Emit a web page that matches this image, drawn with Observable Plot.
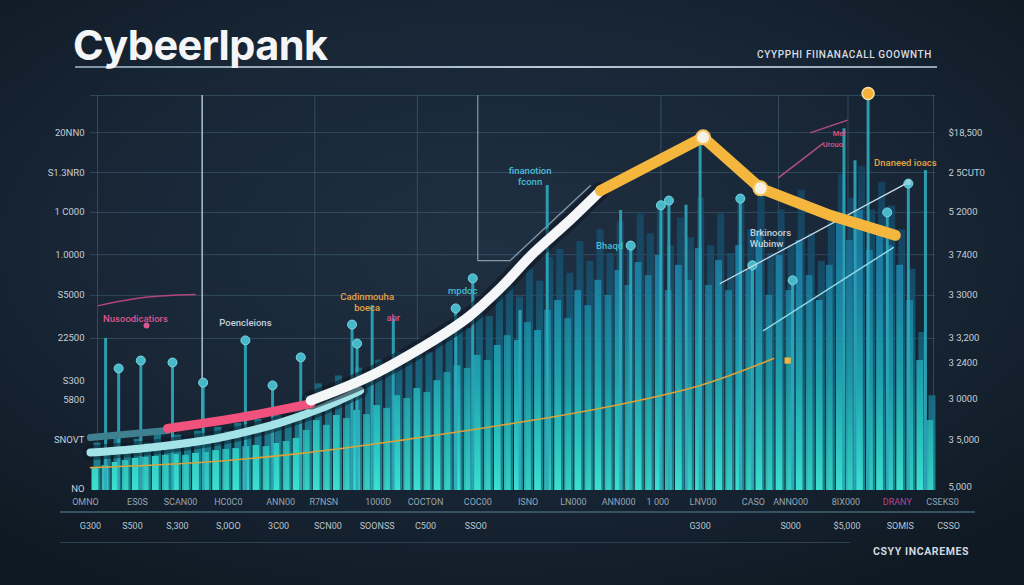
<!DOCTYPE html>
<html><head><meta charset="utf-8">
<script src="https://cdn.jsdelivr.net/npm/d3@7"></script>
<script src="https://cdn.jsdelivr.net/npm/@observablehq/plot@0.6"></script>
<style>
html,body{margin:0;padding:0;}
body{width:1024px;height:585px;overflow:hidden;position:relative;
  background:radial-gradient(ellipse 72% 68% at 48% 42%, #1f3042 0%, #182636 55%, #0f1923 100%);
  font-family:Roboto,"Open Sans",sans-serif;}
#header{position:relative;height:80px;}
#rule{position:absolute;left:75px;top:66px;width:862px;height:2px;background:linear-gradient(90deg,#7e95a6,#b9c9d5 55%,#8fa5b5);}
#title{position:absolute;left:73px;top:25px;font-family:Inter,Roboto,sans-serif;font-weight:700;font-size:41.5px;line-height:40px;color:#f3f5f7;letter-spacing:-0.6px;}
#subtitle{position:absolute;right:92px;top:49px;font-size:10px;letter-spacing:0.6px;color:#d6dce2;font-weight:500;}
.sep{position:absolute;left:60px;height:2px;}
#caption{position:absolute;left:873px;top:545px;font-size:10.5px;font-weight:700;letter-spacing:0.6px;color:#d2d9e0;}
svg{display:block;overflow:visible;}
</style></head>
<body>
<div id="header">
  <div id="rule"></div>
  <div id="title">Cybeerlpank</div>
  <div id="subtitle">CYYPPHI FIINANACALL GOOWNTH</div>
</div>
<div id="chart"></div>
<div class="sep" style="top:511px;width:915px;background:#36515f;"></div>
<div class="sep" style="top:542px;width:790px;height:1px;background:#2c4252;"></div>
<div id="caption">CSYY INCAREMES</div>
<script>
// ---------- data ----------
const frontValues = [5.6,6.3,7.1,7.6,8.1,8.4,8.6,8.9,9.1,8.9,
 9.4,9.6,10.1,10.4,10.6,11.1,11.4,11.1,11.9,12.4,
 13.2,15.2,17.7,16.5,19,18.2,20.3,19.2,21.5,20.8,
 24,23.3,25.8,24.8,27.8,29.9,31.6,30.9,34.2,32.9,
 36.7,39.2,38,42.5,40.5,45.6,48.1,43.5,50.6,46.8,
 53.2,49.4,55.7,51.9,57.7,54.4,59.5,50.6,57,53.2,
 61.3,51.9,58.2,50.6,62,55.7,65.8,49.4,59.5,50.6,
 63.3,54.4,48.1,57,68.4,63.3,70.9,60.8,67.1,62,
 57,48.1,32.9,17.7];
const backValues = [12,10,14,11,13,12,15,12,14,13,
 15,14,16,15,17,16,18,17,19,18,
 22,24,27,25,29,27,31,28,33,30,
 35,33,37,35,40,42,44,41,47,44,
 50,52,49,56,53,59,61,55,63,58,
 66,60,68,63,70,65,72,62,69,64,
 74,62,70,60,75,66,78,60,71,62,
 76,65,58,68,80,74,82,71,78,72,
 66,56,40,24];

const stemX = [1.5,2.8,5.0,8.15,11.2,15.4,18.1,20.9,26.0,26.5,28.0,30.1,36.3,38.0,42.7,45.4,52.7,53.7,56.7,57.5,59.2,60.6,64.6,65.8,69.8,74.9,76.0,77.3,79.2,81.3,83.0];
const stemTop = [38.5,30.9,32.9,32.4,27.3,38.0,26.6,33.7,42.0,37.2,46.8,43.5,46.1,53.7,45.6,77.2,70.9,62.0,72.2,73.4,72.2,88.6,73.9,57.0,53.2,91.6,83.5,100.5,70.4,77.7,81.0];
const stemMarker = ["none","dot","dot","dot","dot","dot","dot","dot","dot","dot","none","none","dot","dot","none","none","none","dot","dot","dot","none","none","dot","dot","dot","none","none","peak","dot","dot","none"];

const whiteX = [21.9,27.5,34.1,37.5,40.8,44.0,47.4,50.7];
const whiteY = [22.8,28.6,38.0,43.8,51.4,60.0,67.8,75.9];
const orangeX = [50.7,60.9,66.6,73.6,80.0];
const orangeY = [75.9,89.4,76.5,69.6,64.6];
const cyanX = [0,6.0,12.9,18.9,22.9,26.8];
const cyanY = [9.6,10.9,13.4,17.2,20.8,25.3];
const tealX = [0,7.65];
const tealY = [13.4,15.2];
const pinkX = [7.65,14.9,21.9];
const pinkY = [15.7,18.5,22.0];

const goldX = [0,10.9,20.9,30.8,40.8,50.7,60.6,67.9];
const goldY = [5.8,7.1,9.4,12.7,16.5,20.8,26.6,33.4];
const silverX = [62.6,81.3];
const silverY = [52.4,78.0];
const aquaX = [66.9,79.8];
const aquaY = [40.5,61.5];
const pinkThinAX = [68.4,72.8], pinkThinAY = [79.2,87.8];
const pinkThinBX = [71.6,75.2], pinkThinBY = [90.6,93.7];
const pinkThinCX = [0.8,5.5,10.4], pinkThinCY = [46.8,48.9,49.6];
const bracketX = [38.5,38.5,41.7,49.7];
const bracketY = [100,58.2,58.2,77.2];

const pinkNotes = [["Nusoodicatiors",4.47,43.5],["abr",30.1,43.8]];
const pinkSmallNotes = [["Mel",74.4,90.4],["Urouo",73.8,87.6]];
const grayNotes = [["Poencleions",15.4,42.5],["Brkinoors",67.6,65.3],["Wubinw",67.2,62.5]];
const orangeNotes = [["Cadinmouha",27.5,48.9],["boeca",27.5,46.1],["Dnaneed ioacs",81.0,82.8]];
const cyanNotes = [["mpdoc",37.0,50.6],["finanotion",43.7,81.0],["fconn",43.7,78.2],["Bhaqd",51.6,62.0]];

const leftVals = [90.6,80.5,70.4,59.7,49.4,38.5,27.8,22.8,12.7,0.5];
const leftLabels = ["20NN0","S1.3NR0","1 C000","1.0000","S5000","22500","S300","5800","SNOVT","NO"];
const rightVals = [90.6,80.5,70.4,59.7,49.4,38.7,32.4,23.3,12.7,0.8];
const rightLabels = ["$18,500","2 5CUT0","5 2000","3 7400","3 3000","3 3,200","3 2400","3 0000","3 5,000","5,000"];
const row1Vals = [-0.5,4.67,8.95,13.7,18.9,23.2,28.6,33.3,38.5,43.5,48.0,52.5,56.4,60.9,65.9,69.6,75.1,80.2,84.7];
const row1Labels = ["OMNO","ES0S","SCAN00","HC0C0","ANN00","R7NSN","1000D","COCTON","COC00","ISNO","LN000","ANN000","1 000","LNV00","CASO","ANNO00","8IX000","DRANY","CSEKS0"];
const row2Vals = [0,4.17,8.65,13.7,18.7,23.6,28.5,33.3,38.3,60.6,69.6,75.2,80.5,85.3];
const row2Labels = ["G300","S500","S,300","S,0OO","3C00","SCN00","SOONSS","C500","SSO0","G300","S000","$5,000","SOMIS","CSSO"];
const gridValues = [100,90.6,80.5,70.4,59.7,49.4,38.5];
const vGridValues = [0.7,22.3,32.5,56.7,68.4,75.3,83.8];
const highlightRule = [{x:11.1, from:17.7, to:100}];

// ---------- build ----------
const bars = frontValues.map((v,i) => ({i, front: v, back: backValues[i]}));
const stems = stemX.map((x,i) => ({x, top: stemTop[i], kind: stemMarker[i]}));
const pts = (xs, ys) => xs.map((x,i) => ({x, y: ys[i]}));
const notes = arr => arr.map(([t,x,y]) => ({t,x,y}));
const mapOf = (vals, labels) => new Map(vals.map((v,i) => [v, labels[i]]));
const leftMap = mapOf(leftVals, leftLabels), rightMap = mapOf(rightVals, rightLabels);
const row1Map = mapOf(row1Vals, row1Labels), row2Map = mapOf(row2Vals, row2Labels);
const pinkTick = row1Vals.filter((v,i) => row1Labels[i] === "DRANY");
const row1Plain = row1Vals.filter((v,i) => row1Labels[i] !== "DRANY");

const noteOpts = {x:"x", y:"y", text:"t", fontSize: 9.5, fontWeight: 500};

const chart = Plot.plot({
  width: 1024, height: 505,
  marginLeft: 90, marginRight: 89, marginTop: 15, marginBottom: 95,
  x: {domain: [0, 84], axis: null},
  y: {domain: [0, 100], axis: null},
  style: {background: "transparent", fontFamily: "Roboto, sans-serif", overflow: "visible"},
  marks: [
    Plot.gridY(gridValues, {stroke: "#4d7088", strokeOpacity: 0.45}),
    Plot.gridX(vGridValues, {stroke: "#4d7088", strokeOpacity: 0.5}),
    Plot.ruleX(highlightRule, {x: "x", y1: "from", y2: "to", stroke: "#a9c3d3", strokeWidth: 1.5}),
    Plot.line(pts(bracketX, bracketY), {x:"x", y:"y", stroke: "#9fb8c8", strokeWidth: 1.2, strokeOpacity: 0.8}),
    Plot.line(pts(pinkThinCX, pinkThinCY), {x:"x", y:"y", stroke: "#b0457a", strokeWidth: 1.5, curve: "natural"}),
    Plot.rectY(bars, {x1: "i", x2: d => d.i + 1, y: "back", insetLeft: 3.5, insetRight: -0.5, fill: "url(#gradBack)", fillOpacity: 0.85}),
    Plot.rectY(bars, {x1: "i", x2: d => d.i + 1, y: "front", insetLeft: 1.5, insetRight: 1.8, fill: "url(#gradFront)", fillOpacity: d => d.i % 2 ? 0.82 : 1}),
    Plot.ruleX(stems, {x: "x", y1: 0, y2: "top", stroke: "#2ea9bb", strokeWidth: 3, strokeOpacity: 0.9}),
    Plot.dot(stems.filter(d => d.kind === "dot"), {x: "x", y: "top", r: 4.5, fill: "#45b9ca", stroke: "#7fd6e0", strokeWidth: 1}),
    Plot.dot(stems.filter(d => d.kind === "peak"), {x: "x", y: "top", r: 6, fill: "#f4b23c", stroke: "#fbe0a2", strokeWidth: 1.5}),
    Plot.line(pts(goldX, goldY), {x:"x", y:"y", stroke: "#d9a23a", strokeWidth: 1.6, curve: "catmull-rom"}),
    Plot.dot([{x: 69.3, y: 32.9}], {x:"x", y:"y", r: 3.5, fill: "#f0b640", symbol: "square"}),
    Plot.line(pts(silverX, silverY), {x:"x", y:"y", stroke: "#c9dbe4", strokeWidth: 1.3}),
    Plot.dot(pts(silverX, silverY).slice(-1), {x:"x", y:"y", r: 3, fill: "#8fd2dc"}),
    Plot.line(pts(aquaX, aquaY), {x:"x", y:"y", stroke: "#8fd7e4", strokeWidth: 1.5}),
    Plot.line(pts(pinkThinAX, pinkThinAY), {x:"x", y:"y", stroke: "#b44d82", strokeWidth: 1.5}),
    Plot.line(pts(pinkThinBX, pinkThinBY), {x:"x", y:"y", stroke: "#b44d82", strokeWidth: 1.5}),
    Plot.line(pts(cyanX, cyanY), {x:"x", y:"y", stroke: "#0d1823", strokeWidth: 15, strokeOpacity: 0.5, curve: "catmull-rom", strokeLinecap: "round"}),
    Plot.line(pts(cyanX, cyanY), {x:"x", y:"y", stroke: "#a3e2e7", strokeWidth: 8, curve: "catmull-rom", strokeLinecap: "round"}),
    Plot.line(pts(tealX, tealY), {x:"x", y:"y", stroke: "#3e7f90", strokeWidth: 7}),
    Plot.line(pts(whiteX, whiteY), {x:"x", y:"y", stroke: "#0c1620", strokeWidth: 18, strokeOpacity: 0.55, curve: "catmull-rom", strokeLinecap: "round"}),
    Plot.line(pts(pinkX, pinkY), {x:"x", y:"y", stroke: "#f1527d", strokeWidth: 9, curve: "catmull-rom"}),
    Plot.line(pts(whiteX, whiteY), {x:"x", y:"y", stroke: "#f4f6f8", strokeWidth: 10, curve: "catmull-rom", strokeLinecap: "round"}),
    Plot.line(pts(orangeX, orangeY), {x:"x", y:"y", stroke: "#f5b63e", strokeWidth: 11, strokeLinecap: "round", strokeLinejoin: "round"}),
    Plot.dot(pts(orangeX, orangeY).slice(1, 3), {x:"x", y:"y", r: 7, fill: "#f6f1e2", stroke: "#f5c35a", strokeWidth: 2}),
    Plot.text(notes(pinkNotes), {...noteOpts, fill: "#d9568f"}),
    Plot.text(notes(pinkSmallNotes), {...noteOpts, fontSize: 7.5, fill: "#d9568f"}),
    Plot.dot([{x: 5.57, y: 41.8}], {x:"x", y:"y", r: 3, fill: "#d9568f"}),
    Plot.text(notes(grayNotes), {...noteOpts, fill: "#c3cfda"}),
    Plot.text(notes(orangeNotes), {...noteOpts, fill: "#e4a444"}),
    Plot.text(notes(cyanNotes), {...noteOpts, fill: "#45bdd2"}),
    Plot.axisY(leftVals, {anchor: "left", tickSize: 0, tickPadding: 6, tickFormat: d => leftMap.get(d), fill: "#c5ced6", fontSize: 9.5}),
    Plot.axisY(rightVals, {anchor: "right", tickSize: 0, tickPadding: 13, tickFormat: d => rightMap.get(d), fill: "#c5ced6", fontSize: 9.5}),
    Plot.axisX(row1Plain, {anchor: "bottom", tickSize: 0, tickPadding: 8, tickFormat: d => row1Map.get(d), fill: "#93a5b4", fontSize: 9}),
    Plot.axisX(pinkTick, {anchor: "bottom", tickSize: 0, tickPadding: 8, tickFormat: d => row1Map.get(d), fill: "#b8468a", fontSize: 9}),
    Plot.axisX(row2Vals, {anchor: "bottom", tickSize: 0, tickPadding: 32, tickFormat: d => row2Map.get(d), fill: "#b9c5cf", fontSize: 9})
  ]
});

const defs = d3.select(chart).insert("defs", ":first-child");
function grad(id, stops) {
  const g = defs.append("linearGradient").attr("id", id).attr("gradientUnits", "userSpaceOnUse")
    .attr("x1", 0).attr("x2", 0).attr("y1", 410).attr("y2", 40);
  stops.forEach(([o, c]) => g.append("stop").attr("offset", o).attr("stop-color", c));
}
grad("gradFront", [[0, "#3ce0cf"], [0.12, "#2cc6c0"], [0.3, "#1fa2ad"], [0.55, "#1c80a2"], [1, "#1b5d8a"]]);
grad("gradBack", [[0, "#1f9aa6"], [0.3, "#176b86"], [0.6, "#164f6c"], [1, "#143f5c"]]);

document.getElementById("chart").appendChild(chart);
</script>
</body></html>
